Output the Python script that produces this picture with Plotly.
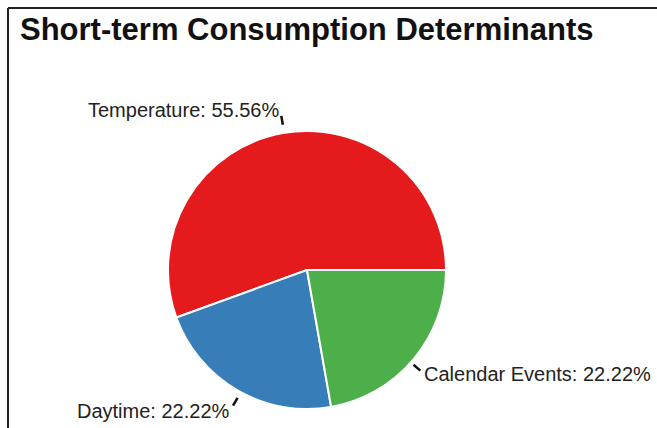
import math
import plotly.graph_objects as go

# Shares of short-term consumption drivers
categories = ["Temperature", "Daytime", "Calendar Events"]
shares = [55.56, 22.22, 22.22]
colors = ["#E41A1C", "#377EB8", "#4DAF4A"]

W, H = 657, 428
cx, cy, R = 307, 270, 139   # pie centre and radius in pixels
RX, RY = 135, 143.5         # radii used to place the outside labels

fig = go.Figure()
fig.add_trace(go.Pie(
    labels=categories,
    values=shares,
    sort=False,
    direction="counterclockwise",
    rotation=-110,
    textinfo="none",
    hoverinfo="label+percent",
    marker=dict(colors=colors, line=dict(color="white", width=2)),
    domain=dict(x=[(cx - R) / W, (cx + R) / W],
                y=[1 - (cy + R) / H, 1 - (cy - R) / H]),
    showlegend=False,
))

# outside labels with short leader ticks at each slice's mid-angle
shapes = []
annotations = []
total = sum(shares)
start = 0.0
for name, v in zip(categories, shares):
    mid = math.radians((start + v / 2) / total * 360)
    start += v
    c, s = math.cos(mid), math.sin(mid)

    def pt(offx, offy):
        return (cx + (RX + offx) * c) / W, 1 - (cy - (RY + offy) * s) / H

    x0, y0 = pt(4, 4)
    x1, y1 = pt(13, 13)
    shapes.append(dict(type="line", xref="paper", yref="paper",
                       x0=x0, y0=y0, x1=x1, y1=y1,
                       line=dict(color="#111111", width=2.5)))
    lx, ly = pt(15, 19)
    annotations.append(dict(
        xref="paper", yref="paper", x=lx, y=ly,
        text=f"{name}: {v:.2f}%",
        showarrow=False,
        xanchor="left" if c > 0 else "right",
        yanchor="middle",
        font=dict(family="Liberation Sans, Arial, sans-serif", size=20, color="#222222"),
    ))

# frame along the top and left edges
shapes.append(dict(type="line", xref="paper", yref="paper",
                   x0=8 / W, y0=1 - 8 / H, x1=1, y1=1 - 8 / H,
                   line=dict(color="#222222", width=2)))
shapes.append(dict(type="line", xref="paper", yref="paper",
                   x0=8 / W, y0=1 - 8 / H, x1=8 / W, y1=0,
                   line=dict(color="#222222", width=2)))

annotations.append(dict(
    xref="paper", yref="paper", x=18 / W, y=1 - 30 / H,
    xanchor="left", yanchor="middle", showarrow=False,
    text="<b>Short-term Consumption Determinants</b>",
    font=dict(family="Liberation Sans, Arial, sans-serif", size=31, color="#111111"),
))

fig.update_layout(
    width=W, height=H,
    margin=dict(l=0, r=0, t=0, b=0),
    paper_bgcolor="white",
    shapes=shapes,
    annotations=annotations,
)

fig.write_html("out.html")
